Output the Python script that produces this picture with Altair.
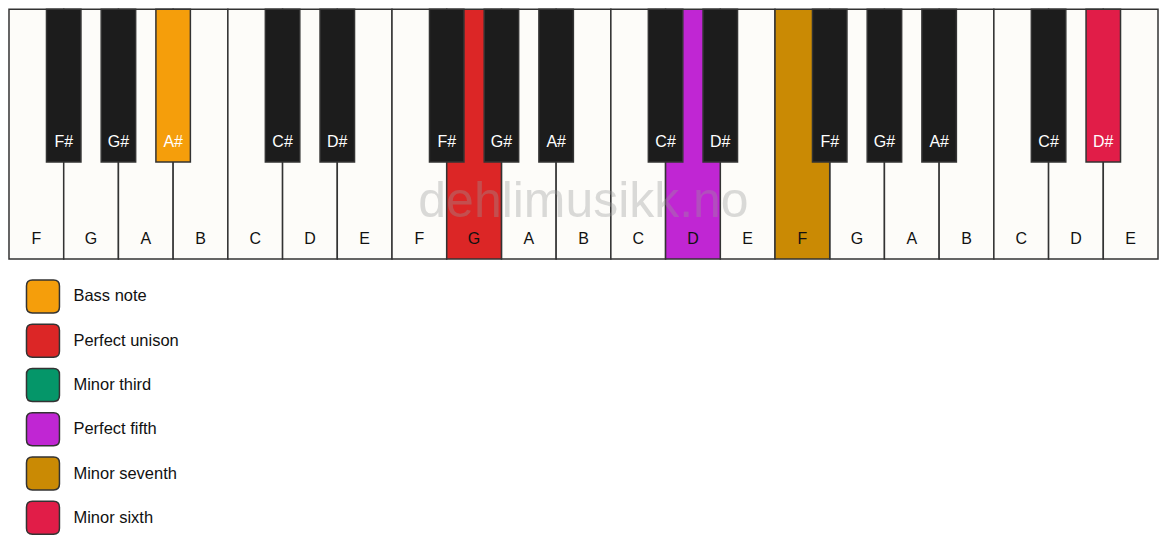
import altair as alt
import pandas as pd

FONT = "Liberation Sans"
KEY_W = 1150          # keyboard width in px
KEY_H = 250           # keyboard height in px
BLACK_DEPTH = 153     # black key length, in y units
BLACK_HALF = 0.315    # half width of a black key, in white-key units

white_notes = ["F", "G", "A", "B", "C", "D", "E",
               "F", "G", "A", "B", "C", "D", "E",
               "F", "G", "A", "B", "C", "D", "E"]
black_notes = ["F#", "G#", "A#", "C#", "D#",
               "F#", "G#", "A#", "C#", "D#",
               "F#", "G#", "A#", "C#", "D#"]
# black key sits on the boundary after this many white keys
black_slots = [1, 2, 3, 5, 6, 8, 9, 10, 12, 13, 15, 16, 17, 19, 20]

hl_white_index = [8, 12, 14]
hl_white_role = ["Perfect unison", "Perfect fifth", "Minor seventh"]
hl_black_index = [2, 14]
hl_black_role = ["Bass note", "Minor sixth"]

roles = ["Bass note", "Perfect unison", "Minor third",
         "Perfect fifth", "Minor seventh", "Minor sixth"]
role_colors = ["#f59e0b", "#dc2626", "#059669", "#c026d3", "#ca8a04", "#e11d48"]

watermark_text = "dehlimusikk.no"

# rounded square for the legend swatches
ROUNDED = ("M-0.64,-1L0.64,-1Q1,-1 1,-0.64L1,0.64Q1,1 0.64,1"
           "L-0.64,1Q-1,1 -1,0.64L-1,-0.64Q-1,-1 -0.64,-1Z")

white = pd.DataFrame({"note": white_notes, "x0": range(len(white_notes))})
white["x1"] = white["x0"] + 1
white["xm"] = white["x0"] + 0.5
white["top"] = 0
white["bottom"] = KEY_H
white["role"] = None
white.loc[hl_white_index, "role"] = hl_white_role

black = pd.DataFrame({"note": black_notes, "slot": black_slots})
black["x0"] = black["slot"] - BLACK_HALF
black["x1"] = black["slot"] + BLACK_HALF
black["top"] = 0
black["bottom"] = BLACK_DEPTH
black["role"] = None
black.loc[hl_black_index, "role"] = hl_black_role

x_scale = alt.Scale(domain=[0, len(white_notes)], nice=False, zero=False)
y_scale = alt.Scale(domain=[0, KEY_H], reverse=True, nice=False)
X = lambda f: alt.X(f, scale=x_scale, axis=None)
Y = lambda f: alt.Y(f, scale=y_scale, axis=None)

color = alt.Color(
    "role:N",
    scale=alt.Scale(domain=roles, range=role_colors),
    legend=alt.Legend(
        title=None, orient="none", legendX=16.5, legendY=270,
        direction="vertical", padding=0,
        symbolType=ROUNDED, symbolSize=1089, symbolOpacity=1,
        symbolStrokeColor="#333", symbolStrokeWidth=1.5,
        labelFont=FONT, labelFontSize=16.5, labelColor="#111",
        labelOffset=13, rowPadding=5.3, labelLimit=400,
    ),
)

key_style = dict(stroke="#333", strokeWidth=1.5)

white_plain = alt.Chart(white[white["role"].isna()]).mark_rect(
    fill="#fdfcf9", **key_style
).encode(x=X("x0:Q"), x2="x1", y=Y("top:Q"), y2="bottom")

white_hl = alt.Chart(white[white["role"].notna()]).mark_rect(
    opacity=1, **key_style
).encode(x=X("x0:Q"), x2="x1", y=Y("top:Q"), y2="bottom", color=color)

black_plain = alt.Chart(black[black["role"].isna()]).mark_rect(
    fill="#1c1c1c", **key_style
).encode(x=X("x0:Q"), x2="x1", y=Y("top:Q"), y2="bottom")

black_hl = alt.Chart(black[black["role"].notna()]).mark_rect(
    opacity=1, **key_style
).encode(x=X("x0:Q"), x2="x1", y=Y("top:Q"), y2="bottom", color=color)

mark = alt.Chart(pd.DataFrame({"text": [watermark_text]})).mark_text(
    font=FONT, fontSize=50, color="#999", opacity=0.35,
    align="center", baseline="alphabetic",
).encode(
    x=alt.X(datum=len(white_notes) / 2, scale=x_scale, axis=None),
    y=alt.Y(datum=208, scale=y_scale, axis=None),
    text="text:N",
)

white_labels = alt.Chart(white).mark_text(
    font=FONT, fontSize=16, color="#111", baseline="alphabetic"
).encode(
    x=X("xm:Q"),
    y=alt.Y(datum=235, scale=y_scale, axis=None),
    text="note:N",
)

black_labels = alt.Chart(black).mark_text(
    font=FONT, fontSize=16, color="#ffffff", baseline="alphabetic"
).encode(
    x=X("slot:Q"),
    y=alt.Y(datum=138, scale=y_scale, axis=None),
    text="note:N",
)

chart = (
    alt.layer(white_plain, white_hl, black_plain, black_hl, mark,
              white_labels, black_labels)
    .properties(width=KEY_W, height=KEY_H, padding=0, background="white")
    .configure_view(strokeWidth=0)
)

chart.save("out.html", embed_options={"renderer": "svg", "actions": False})
